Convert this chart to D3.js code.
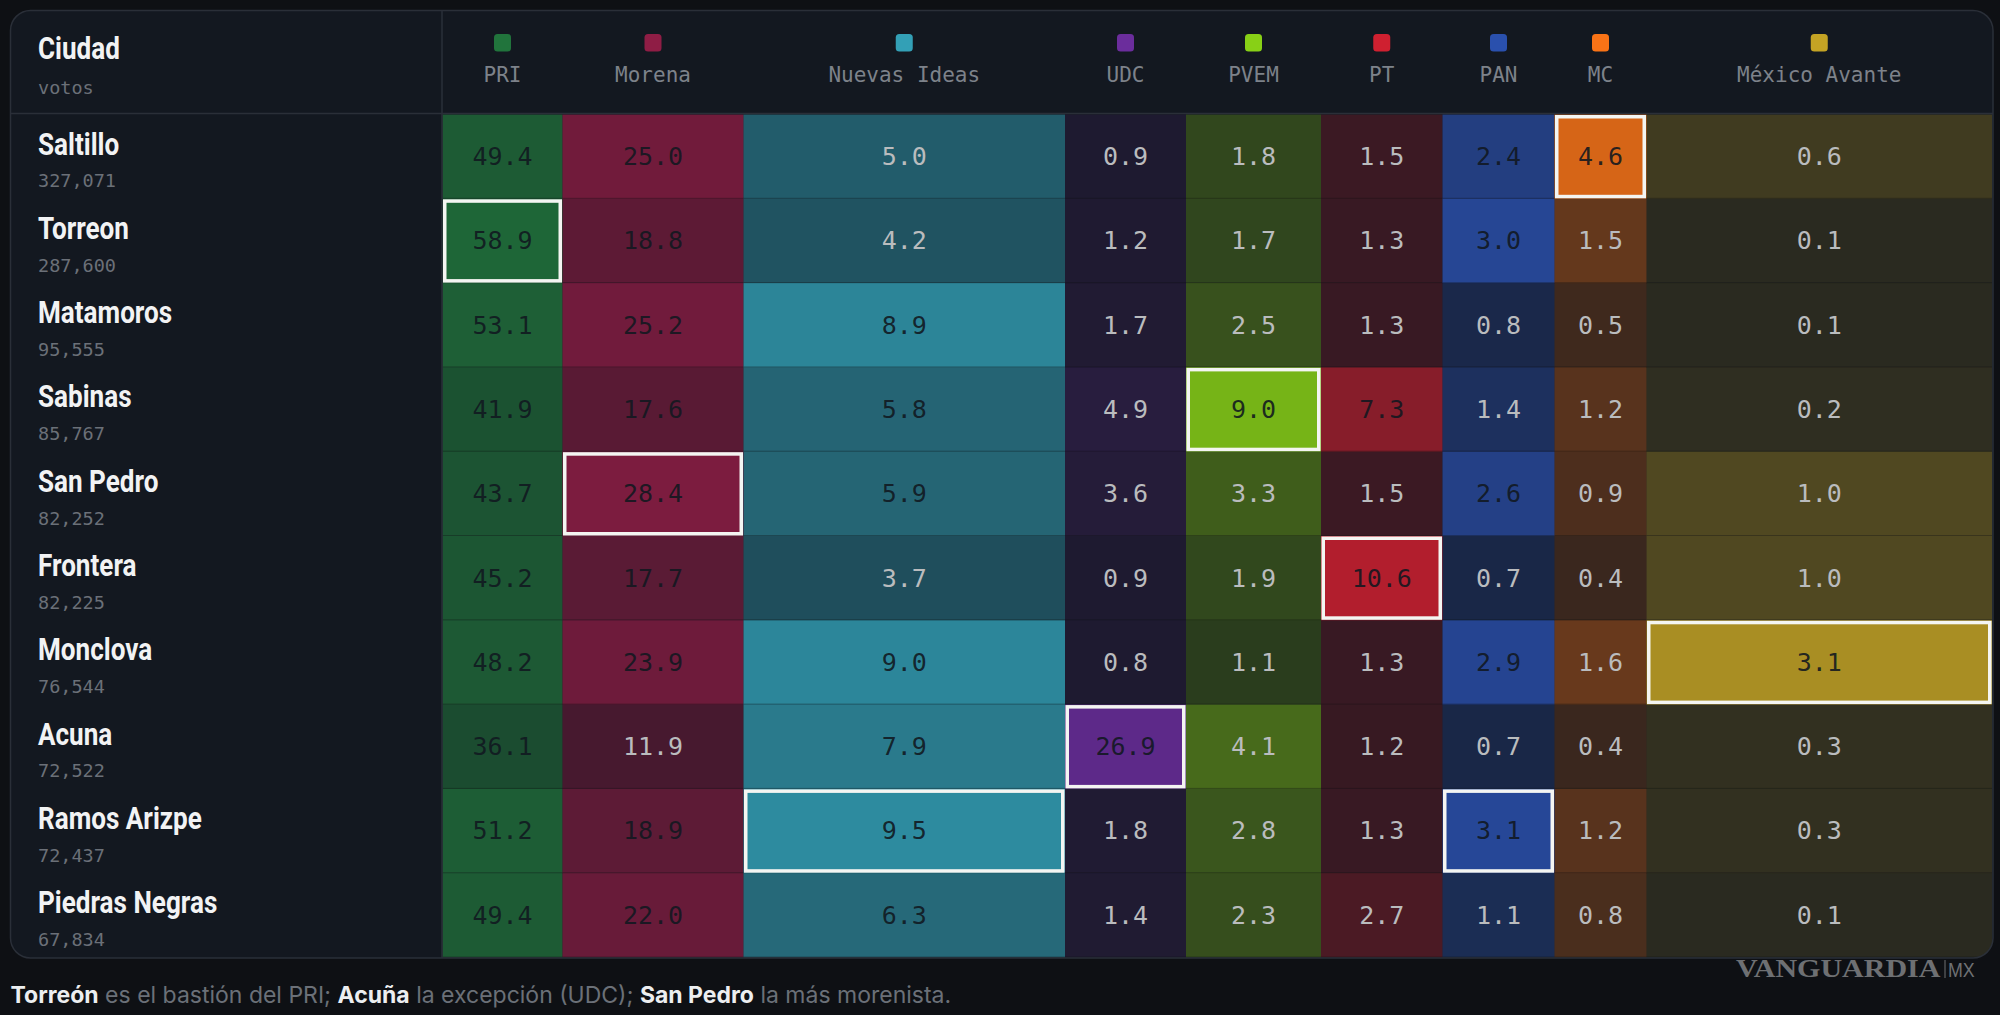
<!DOCTYPE html>
<html>
<head>
<meta charset="utf-8">
<script src="https://cdn.jsdelivr.net/npm/d3@7"></script>
<style>
  html, body { margin: 0; padding: 0; background: #0e1014; overflow: hidden; }
  svg { display: block; }
  .mono { font-family: "DejaVu Sans Mono", "Liberation Mono", monospace; }
  .narrow { font-family: "Roboto", sans-serif; font-weight: 700; }
</style>
</head>
<body>
<svg id="mysvg" width="2000" height="1015"></svg>
<script>
// data
const parties = ["PRI", "Morena", "Nuevas Ideas", "UDC", "PVEM", "PT", "PAN", "MC", "México Avante"];
const partyColors = ["#21743c", "#8f1d45", "#33a0b6", "#6b2d9c", "#88d016", "#cf2030", "#2a50ad", "#f97316", "#c4a324"];
const cities = ["Saltillo", "Torreon", "Matamoros", "Sabinas", "San Pedro", "Frontera", "Monclova", "Acuna", "Ramos Arizpe", "Piedras Negras"];
const votes = [327071, 287600, 95555, 85767, 82252, 82225, 76544, 72522, 72437, 67834];
const pri = [49.4, 58.9, 53.1, 41.9, 43.7, 45.2, 48.2, 36.1, 51.2, 49.4];
const morena = [25.0, 18.8, 25.2, 17.6, 28.4, 17.7, 23.9, 11.9, 18.9, 22.0];
const nuevasIdeas = [5.0, 4.2, 8.9, 5.8, 5.9, 3.7, 9.0, 7.9, 9.5, 6.3];
const udc = [0.9, 1.2, 1.7, 4.9, 3.6, 0.9, 0.8, 26.9, 1.8, 1.4];
const pvem = [1.8, 1.7, 2.5, 9.0, 3.3, 1.9, 1.1, 4.1, 2.8, 2.3];
const pt = [1.5, 1.3, 1.3, 7.3, 1.5, 10.6, 1.3, 1.2, 1.3, 2.7];
const pan = [2.4, 3.0, 0.8, 1.4, 2.6, 0.7, 2.9, 0.7, 3.1, 1.1];
const mc = [4.6, 1.5, 0.5, 1.2, 0.9, 0.4, 1.6, 0.4, 1.2, 0.8];
const mexicoAvante = [0.6, 0.1, 0.1, 0.2, 1.0, 1.0, 3.1, 0.3, 0.3, 0.1];
const seriesValues = [pri, morena, nuevasIdeas, udc, pvem, pt, pan, mc, mexicoAvante];

// column edges, the columns are as wide as the original table made them
const columnEdges = [442.5, 562.5, 743.5, 1065, 1186, 1321, 1442.5, 1554.5, 1646.5, 1992];

const svg = d3.select("#mysvg");
const card = { x: 10.5, y: 10.5, w: 1982.5, h: 947.5, r: 20 };

const x = d3.scaleLinear().domain(d3.range(columnEdges.length)).range(columnEdges);
const y = d3.scaleBand().domain(cities).range([114.5, 957.5]);
const alpha = d3.scaleLinear().domain([0, 1]).range([0.11, 0.85]);
const votesFormat = d3.format(",");

svg.append("defs").append("clipPath").attr("id", "card-clip")
  .append("rect")
  .attr("x", card.x).attr("y", card.y)
  .attr("width", card.w).attr("height", card.h)
  .attr("rx", card.r);

svg.append("rect")
  .attr("x", card.x).attr("y", card.y)
  .attr("width", card.w).attr("height", card.h)
  .attr("rx", card.r)
  .attr("fill", "#131820");

const body = svg.append("g").attr("clip-path", "url(#card-clip)");

// cells
seriesValues.forEach((values, c) => {
  const maxValue = d3.max(values);
  const color = partyColors[c];
  const colX = x(c);
  const colW = x(c + 1) - x(c);
  const cells = body.append("g").attr("class", "col")
    .selectAll("g")
    .data(values)
    .join("g");

  cells.append("rect")
    .attr("x", colX)
    .attr("y", (d, i) => y(cities[i]))
    .attr("width", colW)
    .attr("height", y.bandwidth())
    .attr("fill", color)
    .attr("fill-opacity", (d) => alpha(d / maxValue));

  // thin row rule
  cells.append("rect")
    .attr("x", colX)
    .attr("y", (d, i) => y(cities[i]) + y.bandwidth() - 1)
    .attr("width", colW)
    .attr("height", 1)
    .attr("fill", "#0e1014")
    .attr("fill-opacity", 0.35);

  // white frame around the strongest city of the party
  cells.filter((d) => d === maxValue).append("rect")
    .attr("x", colX + 2.25)
    .attr("y", (d) => y(cities[values.indexOf(d)]) + 2.25)
    .attr("width", colW - 4.5)
    .attr("height", y.bandwidth() - 4.5)
    .attr("fill", "none")
    .attr("stroke", "#f4f5f2")
    .attr("stroke-width", 3.5);

  cells.append("text")
    .attr("class", "mono")
    .attr("x", colX + colW / 2)
    .attr("y", (d, i) => y(cities[i]) + 50.5)
    .attr("text-anchor", "middle")
    .attr("font-size", 25)
    .attr("fill", (d) => (d / maxValue > 0.57 ? "#111820" : "#babcbe"))
    .attr("fill-opacity", (d) => (d / maxValue > 0.57 ? 0.9 : 1))
    .text((d) => d.toFixed(1));
});

// header
svg.append("line")
  .attr("x1", card.x).attr("x2", card.x + card.w)
  .attr("y1", 113.5).attr("y2", 113.5)
  .attr("stroke", "#2a2f38").attr("stroke-width", 1.5);
svg.append("line")
  .attr("x1", 442).attr("x2", 442)
  .attr("y1", card.y).attr("y2", card.y + card.h)
  .attr("stroke", "#2a2f38").attr("stroke-width", 1.5);

// no condensed font here, so roboto gets squeezed
const narrowScale = 0.815;

svg.append("text").attr("class", "narrow")
  .attr("transform", `translate(38,59) scale(${narrowScale},1)`)
  .attr("font-size", 32)
  .attr("fill", "#f2f3f4")
  .text("Ciudad");
svg.append("text").attr("class", "mono")
  .attr("x", 38).attr("y", 93.5)
  .attr("font-size", 18.5)
  .attr("fill", "#6b7078")
  .text("votos");

const heads = svg.append("g").selectAll("g").data(parties).join("g");
heads.append("rect")
  .attr("x", (d, i) => (x(i) + x(i + 1)) / 2 - 8.5)
  .attr("y", 34)
  .attr("width", 17)
  .attr("height", 17.5)
  .attr("rx", 3.5)
  .attr("fill", (d, i) => partyColors[i]);
heads.append("text").attr("class", "mono")
  .attr("x", (d, i) => (x(i) + x(i + 1)) / 2)
  .attr("y", 81.5)
  .attr("text-anchor", "middle")
  .attr("font-size", 21)
  .attr("fill", "#7d828a")
  .text((d) => d);

// city names and votes
const rows = svg.append("g").selectAll("g").data(cities).join("g");
rows.append("text").attr("class", "narrow")
  .attr("transform", (d) => `translate(38,${y(d) + 40}) scale(${narrowScale},1)`)
  .attr("font-size", 32)
  .attr("fill", "#f2f3f4")
  .text((d) => d);
rows.append("text").attr("class", "mono")
  .attr("x", 38)
  .attr("y", (d) => y(d) + 72.8)
  .attr("font-size", 18.5)
  .attr("fill", "#6b7078")
  .text((d, i) => votesFormat(votes[i]));

// card border on top of the cells
svg.append("rect")
  .attr("x", card.x).attr("y", card.y)
  .attr("width", card.w).attr("height", card.h)
  .attr("rx", card.r)
  .attr("fill", "none")
  .attr("stroke", "#2a2f38")
  .attr("stroke-width", 1.5);

// caption
const captionParts = [
  ["Torreón", true], [" es el bastión del PRI; ", false],
  ["Acuña", true], [" la excepción (UDC); ", false],
  ["San Pedro", true], [" la más morenista.", false],
];
svg.append("text")
  .attr("x", 10.5).attr("y", 1002.5)
  .attr("font-family", "Inter, sans-serif")
  .attr("font-size", 23)
  .selectAll("tspan")
  .data(captionParts)
  .join("tspan")
  .attr("font-weight", (d) => (d[1] ? 700 : 400))
  .attr("fill", (d) => (d[1] ? "#eceef0" : "#6b7078"))
  .text((d) => d[0]);

// watermark
svg.append("text")
  .attr("transform", "translate(1736,977) scale(1.2,1)")
  .attr("font-family", "Liberation Serif, serif")
  .attr("font-weight", 700)
  .attr("font-size", 25)
  .attr("fill", "#6e7073")
  .text("VANGUARDIA");
svg.append("line")
  .attr("x1", 1945).attr("x2", 1945)
  .attr("y1", 960).attr("y2", 978)
  .attr("stroke", "#6e7073");
svg.append("text")
  .attr("transform", "translate(1948,977) scale(0.85,1)")
  .attr("font-family", "Liberation Sans, sans-serif")
  .attr("font-size", 21)
  .attr("fill", "#6e7073")
  .text("MX");
</script>
</body>
</html>
